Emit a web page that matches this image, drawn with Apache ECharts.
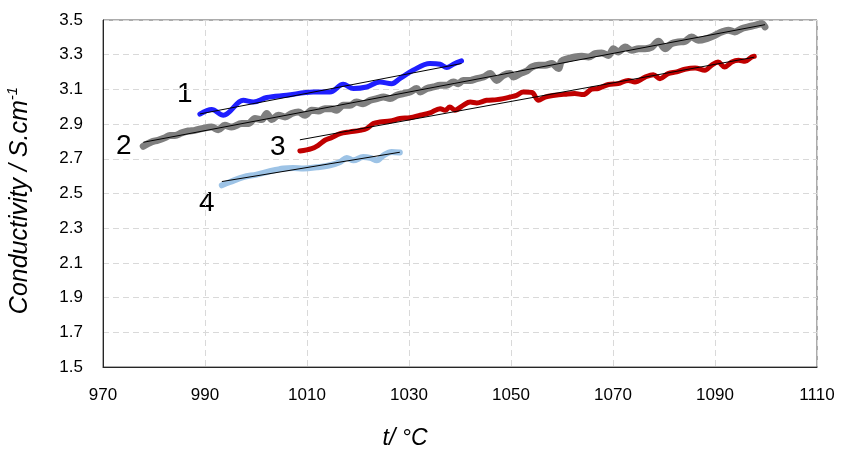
<!DOCTYPE html>
<html>
<head>
<meta charset="utf-8">
<script src="https://cdn.jsdelivr.net/npm/echarts@6/dist/echarts.min.js"></script>
<style>
  html, body { margin: 0; padding: 0; background: #fff; }
  #chart { width: 842px; height: 457px; }
</style>
</head>
<body>
<div id="chart"></div>
<script>
// Conductivity vs temperature for four melts, each with a linear trendline.
const xTicks = { min: 970, max: 1110, step: 20 };
const yTicks = { min: 1.5, max: 3.5, step: 0.2 };

// Series 1 (blue)
const t1 = [989.0, 991.3, 993.6, 997.5, 999.5, 1002.1, 1006.0, 1011.2, 1014.5, 1017.1, 1019.1, 1021.7, 1024.3, 1026.6, 1028.2, 1030.8, 1034.1, 1036.1, 1037.4, 1038.7, 1040.3];
const k1 = [2.957, 2.984, 2.951, 3.037, 3.027, 3.053, 3.066, 3.085, 3.085, 3.129, 3.105, 3.114, 3.143, 3.133, 3.162, 3.210, 3.249, 3.245, 3.226, 3.245, 3.264];

// Series 2 (grey)
const t2 = [977.9, 979.5, 980.8, 982.2, 983.1, 984.1, 985.4, 986.7, 988.0, 989.4,
  991.3, 992.6, 993.9, 995.2, 997.2, 998.5, 999.8, 1001.1, 1002.1, 1003.1,
  1004.4, 1005.7, 1007.0, 1008.3, 1009.6, 1010.9, 1012.2, 1013.5, 1014.8,
  1015.8, 1017.1, 1018.4, 1019.7, 1021.0, 1022.4, 1023.7, 1025.0, 1026.3, 1027.6,
  1028.9, 1030.2, 1031.5, 1032.2, 1033.5, 1034.8, 1036.1, 1037.4, 1038.7, 1039.7,
  1040.6, 1042.0, 1043.3, 1044.6, 1045.9, 1047.2, 1048.5, 1049.8, 1050.5, 1051.8, 1053.1,
  1054.1, 1055.4, 1056.7, 1058.0, 1059.3, 1059.9, 1061.2, 1062.5, 1063.9, 1065.2,
  1066.5, 1067.8, 1069.1, 1070.1, 1071.0, 1072.4, 1073.7, 1075.0, 1076.3, 1077.6,
  1078.9, 1080.2, 1081.5, 1082.8, 1084.1, 1085.4, 1086.7, 1088.4, 1090.0, 1091.3,
  1092.6, 1093.9, 1095.2, 1096.5, 1097.8, 1099.2, 1099.8];
const k2 = [2.772, 2.797, 2.807, 2.822, 2.835, 2.835, 2.849, 2.860, 2.864, 2.874,
  2.883, 2.868, 2.893, 2.883, 2.903, 2.903, 2.932, 2.926, 2.961, 2.926,
  2.951, 2.941, 2.961, 2.970, 2.951, 2.980, 2.976, 2.989, 2.989,
  2.980, 3.008, 3.008, 3.027, 3.018, 3.037, 3.047, 3.056, 3.047, 3.066,
  3.076, 3.085, 3.105, 3.085, 3.105, 3.114, 3.124, 3.124, 3.143, 3.133,
  3.152, 3.152, 3.162, 3.171, 3.191, 3.152, 3.181, 3.191, 3.171, 3.191, 3.206,
  3.229, 3.239, 3.239, 3.249, 3.220, 3.262, 3.277, 3.287, 3.291, 3.287,
  3.306, 3.310, 3.296, 3.335, 3.316, 3.344, 3.325, 3.335, 3.335, 3.344,
  3.377, 3.335, 3.364, 3.373, 3.377, 3.402, 3.383, 3.393, 3.412, 3.431,
  3.441, 3.431, 3.450, 3.460, 3.469, 3.479, 3.460];

// Series 3 (red)
const t3 = [1008.6, 1010.9, 1012.2, 1013.5, 1014.8, 1016.5, 1018.4, 1020.4, 1021.7, 1023.0,
  1024.3, 1026.3, 1028.2, 1030.2, 1032.2, 1034.1, 1036.1, 1037.1, 1038.0, 1039.0,
  1040.6, 1042.0, 1043.3, 1045.2, 1047.2, 1048.5, 1049.8, 1051.1, 1052.4, 1054.1,
  1055.4, 1056.7, 1058.6, 1060.6, 1062.5, 1064.2, 1065.8, 1067.1, 1069.1, 1071.0,
  1073.0, 1074.3, 1076.3, 1077.9, 1079.2, 1080.8, 1082.5, 1084.1, 1086.1, 1088.0,
  1089.3, 1090.6, 1091.9, 1093.3, 1094.6, 1095.9, 1097.2, 1097.7];
const k3 = [2.745, 2.759, 2.778, 2.807, 2.822, 2.845, 2.855, 2.864, 2.874, 2.903,
  2.912, 2.918, 2.932, 2.937, 2.951, 2.964, 2.989, 2.980, 2.999, 2.980,
  3.008, 3.027, 3.022, 3.037, 3.041, 3.047, 3.056, 3.066, 3.085, 3.082,
  3.037, 3.056, 3.066, 3.072, 3.076, 3.070, 3.101, 3.105, 3.128, 3.133,
  3.152, 3.143, 3.171, 3.185, 3.162, 3.191, 3.201, 3.216, 3.223, 3.210,
  3.239, 3.258, 3.229, 3.258, 3.268, 3.262, 3.287, 3.291];

// Series 4 (light blue)
const t4 = [993.3, 994.9, 997.5, 1000.1, 1002.7, 1005.4, 1007.3, 1009.3, 1011.9, 1014.5, 1016.5, 1017.8, 1019.1, 1021.0, 1022.4, 1023.7, 1025.0, 1026.6, 1028.2];
const k4 = [2.547, 2.566, 2.595, 2.609, 2.628, 2.644, 2.647, 2.644, 2.651, 2.663, 2.682, 2.705, 2.691, 2.710, 2.705, 2.691, 2.720, 2.739, 2.736];

const seriesNames = ['1', '2', '3', '4'];
const seriesColors = ['#1f1fff', '#7f7f7f', '#c00000', '#9dc3e6'];
const seriesWidths = [5, 7, 5, 6];
const seriesT = [t1, t2, t3, t4];
const seriesK = [k1, k2, k3, k4];

function pairs(ts, ks) { return ts.map((t, i) => [t, ks[i]]); }

// least-squares straight line over the measured points
function trend(ts, ks) {
  const n = ts.length;
  let sx = 0, sy = 0, sxx = 0, sxy = 0;
  for (let i = 0; i < n; i++) { sx += ts[i]; sy += ks[i]; sxx += ts[i] * ts[i]; sxy += ts[i] * ks[i]; }
  const b = (n * sxy - sx * sy) / (n * sxx - sx * sx);
  const a = (sy - b * sx) / n;
  const x0 = Math.min(...ts), x1 = Math.max(...ts);
  return [[x0, a + b * x0], [x1, a + b * x1]];
}

const FONT = '"Liberation Sans", Arial, sans-serif';

const series = [];
seriesT.forEach((ts, i) => {
  series.push({
    name: seriesNames[i],
    type: 'line',
    data: pairs(ts, seriesK[i]),
    showSymbol: false,
    smooth: 0.35,
    lineStyle: { color: seriesColors[i], width: seriesWidths[i], cap: 'round', join: 'round' },
    z: 2,
    silent: true
  });
});
seriesT.forEach((ts, i) => {
  series.push({
    name: 'fit ' + seriesNames[i],
    type: 'line',
    data: trend(ts, seriesK[i]),
    showSymbol: false,
    lineStyle: { color: '#000', width: 1 },
    z: 3,
    silent: true
  });
});

const chart = echarts.init(document.getElementById('chart'), null, { renderer: 'canvas' });
chart.setOption({
  animation: false,
  backgroundColor: '#fff',
  grid: {
    left: 103, right: 25, top: 20, bottom: 90,
    show: true, borderColor: '#595959', borderWidth: 1,
    containLabel: false, outerBoundsMode: 'none'
  },
  xAxis: {
    type: 'value',
    min: xTicks.min, max: xTicks.max, interval: xTicks.step,
    name: 't/ °C',
    nameLocation: 'middle',
    nameGap: 60,
    nameTextStyle: { fontFamily: FONT, fontStyle: 'italic', fontSize: 23, color: '#000', padding: [0, 110, 0, 0] },
    axisLine: { show: true, lineStyle: { color: '#262626', width: 1 } },
    axisTick: { show: false },
    axisLabel: { fontFamily: FONT, fontSize: 17, color: '#000', margin: 20, formatter: v => String(v) },
    splitLine: { show: true, lineStyle: { color: '#d9d9d9', type: [6, 4], width: 1 } }
  },
  yAxis: {
    type: 'value',
    min: yTicks.min, max: yTicks.max, interval: yTicks.step,
    name: 'Conductivity / S.cm{sup|-1}',
    nameLocation: 'middle',
    nameGap: 68,
    nameTextStyle: {
      fontFamily: FONT, fontStyle: 'italic', fontSize: 25, color: '#000', lineHeight: 30,
      padding: [0, 14, 0, 0],
      rich: {
        sup: { fontFamily: FONT, fontStyle: 'italic', fontSize: 15, lineHeight: 30, verticalAlign: 'top', color: '#000', padding: [0, 0, 12, 0] }
      }
    },
    axisLine: { show: true, lineStyle: { color: '#262626', width: 1 } },
    axisTick: { show: false },
    axisLabel: {
      fontFamily: FONT, fontSize: 17, color: '#000', margin: 20,
      formatter: v => v.toFixed(1)
    },
    splitLine: { show: true, lineStyle: { color: '#d9d9d9', type: [6, 4], width: 1 } }
  },
  graphic: [
    { type: 'text', left: 177, top: 80, style: { text: '1', font: '28px ' + FONT, fill: '#000' } },
    { type: 'text', left: 116, top: 132, style: { text: '2', font: '28px ' + FONT, fill: '#000' } },
    { type: 'text', left: 270, top: 133, style: { text: '3', font: '28px ' + FONT, fill: '#000' } },
    { type: 'text', left: 199, top: 189, style: { text: '4', font: '28px ' + FONT, fill: '#000' } }
  ],
  series: series
});
</script>
</body>
</html>
